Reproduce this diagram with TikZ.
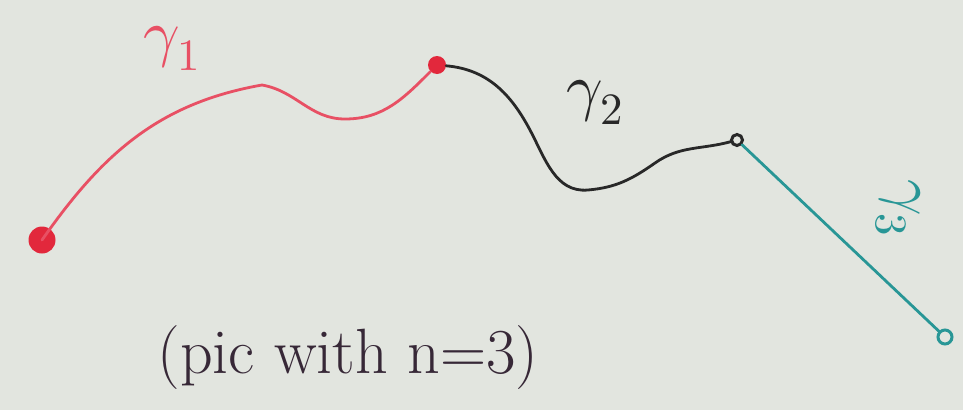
\documentclass[tikz,border=0pt]{standalone}
\usepackage{unicode-math}
\definecolor{board}{RGB}{226,229,223}
\definecolor{penred}{RGB}{232,80,100}
\definecolor{dotred}{RGB}{226,40,60}
\definecolor{penblack}{RGB}{40,40,40}
\definecolor{penteal}{RGB}{40,150,150}
\definecolor{ink}{RGB}{55,40,55}
\begin{document}
\begin{tikzpicture}[x=1pt,y=-1pt,
  stroke/.style={line width=2.8pt,line cap=round},
  bigdot/.style={circle,fill=dotred,inner sep=0pt,minimum size=#1},
  ringdot/.style={circle,draw=#1,line width=3pt,inner sep=0pt,minimum size=11pt},
  lbl/.style={font=\fontsize{64}{70}\selectfont,inner sep=0pt}]
\useasboundingbox (0,0) rectangle (963,410);
\fill[board] (0,0) rectangle (963,410);

\node[bigdot=27pt] (p0) at (42,240) {};
\node[bigdot=18pt] (p1) at (437,65) {};
\node[ringdot=penblack] (p2) at (737,140) {};
\node[ringdot=penteal,minimum width=11pt,minimum height=14pt] (p3) at (945,337) {};

\coordinate (a1) at (262,85);
\coordinate (a2) at (345,119);
\coordinate (b1) at (530,130);
\coordinate (b2) at (588,190);
\coordinate (b3) at (655,163);

\draw[stroke,penred] (p0.center) to[out=55,in=190] (a1) to[out=-10,in=180] (a2)
  to[out=0,in=225] (p1);
\draw[stroke,penblack] (p1) to[out=-5,in=118] (b1) to[out=-62,in=185] (b2)
  to[out=5,in=215] (b3) to[out=35,in=195] (p2);
\draw[stroke,penteal] (p2) -- (p3);

\node[lbl,text=penred] (g1) at (172,48) {$\gamma_1$};
\node[lbl,text=penblack] (g2) at (595,102) {$\gamma_2$};
\node[lbl,text=penteal,rotate=-90] (g3) at (898,208) {$\gamma_3$};
\node[lbl,text=ink] (cap) at (348,358) {(pic with n=3)};
\end{tikzpicture}
\end{document}
